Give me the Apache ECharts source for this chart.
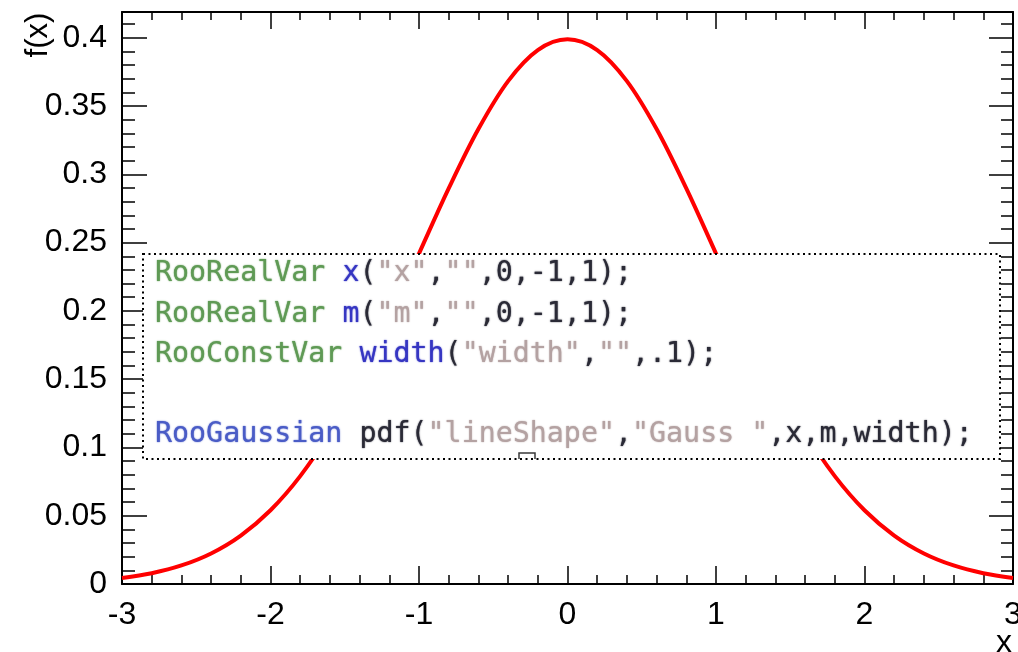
<!DOCTYPE html>
<html>
<head>
<meta charset="utf-8">
<style>
  html, body { margin: 0; padding: 0; background: #ffffff; }
  #chart { width: 1018px; height: 652px; }
</style>
<script src="https://cdn.jsdelivr.net/npm/echarts@6/dist/echarts.min.js"></script>
</head>
<body>
<div id="chart"></div>
<script>
// Gaussian line shape f(x), sampled along x
const xValues = [-3, -2.8, -2.6, -2.4, -2.2, -2, -1.8, -1.6, -1.4, -1.2, -1, -0.8, -0.6, -0.4, -0.2, 0,
                 0.2, 0.4, 0.6, 0.8, 1, 1.2, 1.4, 1.6, 1.8, 2, 2.2, 2.4, 2.6, 2.8, 3];
const fValues = [0.0044, 0.0079, 0.0136, 0.0224, 0.0355, 0.0540, 0.0790, 0.1109, 0.1497, 0.1942, 0.2420,
                 0.2897, 0.3332, 0.3683, 0.3910, 0.3989, 0.3910, 0.3683, 0.3332, 0.2897, 0.2420, 0.1942,
                 0.1497, 0.1109, 0.0790, 0.0540, 0.0355, 0.0224, 0.0136, 0.0079, 0.0044];

// Axis tick labels
const xTickLabels = ['-3', '-2', '-1', '0', '1', '2', '3'];
const yTickLabels = ['0', '0.05', '0.1', '0.15', '0.2', '0.25', '0.3', '0.35', '0.4'];

// Code listing shown in the inset box: [style, text] tokens per line
const codeLines = [
  [['g', 'RooRealVar'], ['d', ' '], ['b', 'x'], ['d', '('], ['s', '"x"'], ['d', ','], ['s', '""'], ['d', ',0,-1,1);']],
  [['g', 'RooRealVar'], ['d', ' '], ['b', 'm'], ['d', '('], ['s', '"m"'], ['d', ','], ['s', '""'], ['d', ',0,-1,1);']],
  [['g', 'RooConstVar'], ['d', ' '], ['b', 'width'], ['d', '('], ['s', '"width"'], ['d', ','], ['s', '""'], ['d', ',.1);']],
  [],
  [['c', 'RooGaussian'], ['d', ' pdf('], ['s', '"lineShape"'], ['d', ','], ['s', '"Gauss "'], ['d', ',x,m,width);']]
];

const chart = echarts.init(document.getElementById('chart'), null, { renderer: 'canvas' });

const X_MIN = -3, X_MAX = 3, Y_MIN = 0, Y_MAX = 0.4189;
const labelFont = '"Liberation Sans", Arial, Helvetica, sans-serif';
const monoFont = '"DejaVu Sans Mono", monospace';

function lookupLabel(list) {
  return function (v) {
    for (const s of list) {
      if (Math.abs(parseFloat(s) - v) < 1e-6) return s;
    }
    return '';
  };
}

const lineBase = { show: true, onZero: false, lineStyle: { color: '#000', width: 2 } };

function xAxisDef(position, major, minor, showLabel) {
  return {
    type: 'value', position, min: X_MIN, max: X_MAX, interval: 1,
    axisLine: lineBase,
    axisTick: { show: true, inside: true, length: major, lineStyle: { color: '#000', width: 1.5 } },
    minorTick: { show: true, splitNumber: 5, length: minor, lineStyle: { color: '#000', width: 1.5 } },
    splitLine: { show: false },
    minorSplitLine: { show: false },
    axisLabel: showLabel ? {
      show: true, margin: 15, color: '#000', fontSize: 32, fontFamily: labelFont,
      formatter: lookupLabel(xTickLabels)
    } : { show: false }
  };
}

function yAxisDef(position, interval, tickLen, showLine, showLabel) {
  return {
    type: 'value', position, min: Y_MIN, max: Y_MAX, interval,
    axisLine: showLine ? lineBase : { show: false, onZero: false },
    axisTick: { show: true, inside: true, length: tickLen, lineStyle: { color: '#000', width: 1.5 } },
    splitLine: { show: false },
    axisLabel: showLabel ? {
      show: true, margin: 15, color: '#000', fontSize: 32, fontFamily: labelFont,
      showMaxLabel: false, padding: [12, 0, 0, 0],
      formatter: lookupLabel(yTickLabels)
    } : { show: false }
  };
}

const richStyles = {
  g: '#5f9a55',
  b: '#3636c2',
  c: '#4a5cc6',
  s: '#b4a2a2',
  d: '#2a2a36'
};

const codeTop = 274, codeStep = 40.2;
const richDefs = {};
Object.keys(richStyles).forEach(function (k) {
  richDefs[k] = {
    fill: richStyles[k], fontFamily: monoFont, fontSize: 28.3,
    textShadowColor: richStyles[k], textShadowBlur: 1.5
  };
});
const codeTexts = codeLines.map(function (tokens, i) {
  if (!tokens.length) return null;
  const text = tokens.map(function (t) { return '{' + t[0] + '|' + t[1] + '}'; }).join('');
  return {
    type: 'text', x: 155, y: codeTop + i * codeStep, z: 101,
    style: {
      text, rich: richDefs, fontFamily: monoFont, fontSize: 28.3, verticalAlign: 'middle', align: 'left'
    }
  };
}).filter(Boolean);

const option = {
  backgroundColor: '#ffffff',
  animation: false,
  grid: { left: 122, right: 5, top: 12, bottom: 68, containLabel: false, outerBoundsMode: 'none' },
  xAxis: [
    xAxisDef('bottom', 18, 9, true),
    xAxisDef('top', 17, 8, false)
  ],
  yAxis: [
    yAxisDef('left', 0.05, 25, true, true),
    yAxisDef('left', 0.01, 13, false, false),
    yAxisDef('right', 0.05, 24, true, false),
    yAxisDef('right', 0.01, 12, false, false)
  ],
  series: [{
    type: 'line',
    xAxisIndex: 0,
    yAxisIndex: 0,
    data: xValues.map(function (x, i) { return [x, fValues[i]]; }),
    smooth: 0.35,
    showSymbol: false,
    lineStyle: { color: '#ff0000', width: 4 },
    z: 5
  }],
  graphic: [
    {
      type: 'text', x: 38, y: 35, rotation: Math.PI / 2, z: 50,
      style: { text: 'f(x)', font: '31px ' + labelFont, fill: '#000', align: 'center', verticalAlign: 'middle' }
    },
    {
      type: 'text', x: 1004, y: 643, z: 50,
      style: { text: 'x', font: '32px ' + labelFont, fill: '#000', align: 'center', verticalAlign: 'middle' }
    },
    {
      type: 'rect', z: 100,
      shape: { x: 143, y: 254, width: 857, height: 205 },
      style: { fill: '#ffffff', stroke: '#000', lineWidth: 2, lineDash: [2, 3.5] }
    },
    {
      type: 'polyline', z: 101,
      shape: { points: [[519, 459], [519, 453], [535, 453], [535, 459]] },
      style: { stroke: '#3a3a3a', lineWidth: 1.5, fill: null }
    }
  ].concat(codeTexts)
};

chart.setOption(option);
</script>
</body>
</html>
